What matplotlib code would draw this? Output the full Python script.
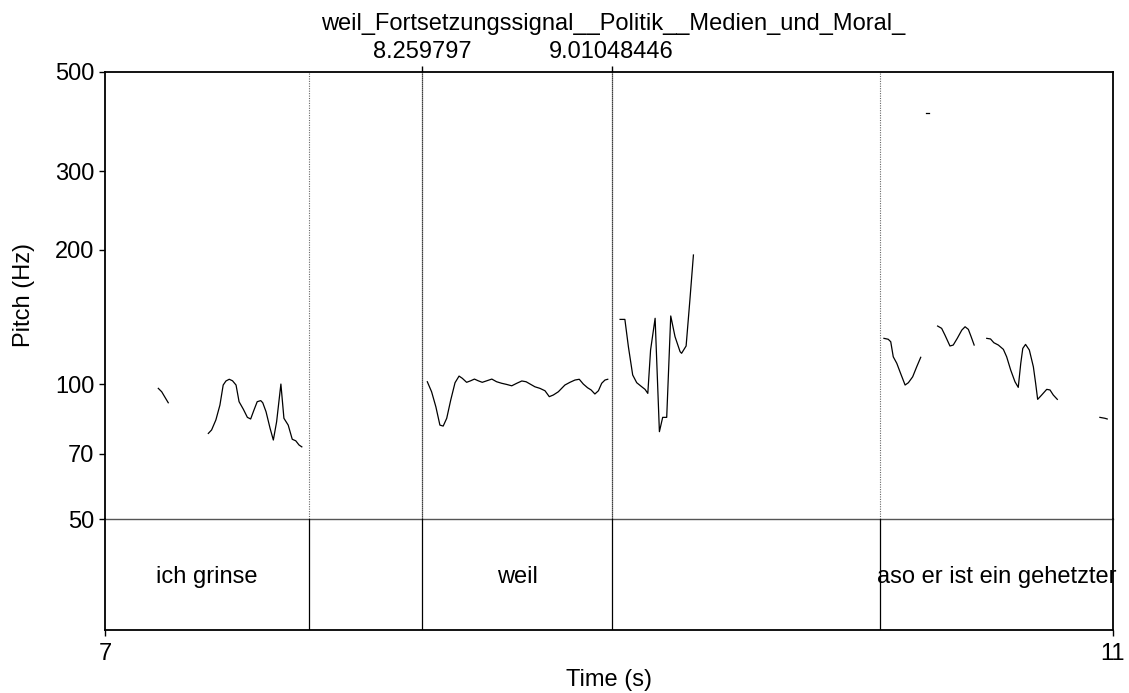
import matplotlib
matplotlib.use("Agg")
import matplotlib.pyplot as plt
import matplotlib.transforms as mtransforms
from matplotlib.ticker import FixedLocator, NullLocator

plt.rcParams['font.family'] = ['Liberation Sans', 'DejaVu Sans']

# ---------------- data ----------------
titre = "weil_Fortsetzungssignal__Politik__Medien_und_Moral_"
bornes = [7.81, 8.259797, 9.01048446, 10.075]          # limites des intervalles
bornes_marquees = [8.259797, 9.01048446]
labels_bornes = ["8.259797", "9.01048446"]
mots = ["ich grinse", "", "weil", "", "aso er ist ein gehetzter"]
debuts_mots = [7.0, 7.81, 8.259797, 9.01048446, 10.075, 11.0]

# courbes de F0 (s, Hz), un segment par liste
t1 = [7.2115, 7.225, 7.238, 7.251]
f1 = [98.0, 96.3, 93.6, 91.0]

t2 = [7.410, 7.423, 7.440, 7.456, 7.469, 7.480, 7.493, 7.506, 7.520, 7.532,
      7.549, 7.565, 7.578, 7.591, 7.604, 7.618, 7.626, 7.639, 7.655, 7.668,
      7.681, 7.698, 7.710, 7.727, 7.743, 7.757, 7.770, 7.781]
f2 = [77.7, 79.1, 83.3, 89.9, 99.7, 101.8, 102.7, 101.9, 99.7, 91.5,
      88.0, 84.4, 83.7, 87.6, 91.5, 92.0, 91.0, 86.9, 79.8, 75.1,
      82.5, 100.2, 84.0, 81.1, 75.4, 74.8, 73.2, 72.5]

t3 = [8.279, 8.296, 8.313, 8.329, 8.342, 8.356, 8.372, 8.389, 8.405, 8.418,
      8.435, 8.451, 8.466, 8.481, 8.497, 8.515, 8.535, 8.554, 8.574, 8.594,
      8.614, 8.634, 8.654, 8.671, 8.687, 8.706, 8.726, 8.746, 8.763, 8.779,
      8.799, 8.825, 8.845, 8.865, 8.882, 8.898, 8.915, 8.929, 8.944, 8.958,
      8.971, 8.984, 8.995]
f3 = [101.4, 96.3, 89.1, 81.1, 80.7, 84.0, 92.3, 100.9, 104.4, 103.2,
      101.1, 101.9, 102.8, 101.9, 101.1, 101.9, 102.8, 101.4, 100.6, 100.0,
      99.3, 100.6, 101.8, 101.4, 100.2, 98.8, 98.0, 96.8, 93.9, 94.7,
      96.3, 99.7, 101.1, 102.3, 102.7, 100.2, 98.3, 97.2, 95.2, 96.8,
      100.6, 102.3, 102.7]

t4 = [9.044, 9.063, 9.077, 9.094, 9.110, 9.130, 9.143, 9.154, 9.165, 9.183,
      9.200, 9.213, 9.229, 9.245, 9.262, 9.282, 9.288, 9.306, 9.321, 9.335]
f4 = [139.8, 139.8, 121.4, 105.0, 100.9, 98.8, 97.5, 95.5, 119.4, 140.6,
      78.4, 84.4, 84.4, 142.3, 127.9, 118.4, 117.4, 121.9, 154.5, 194.8]

t5 = [10.091, 10.108, 10.118, 10.128, 10.142, 10.157, 10.175, 10.188, 10.205, 10.221, 10.237]
f5 = [126.8, 126.2, 124.6, 115.3, 111.5, 105.9, 99.7, 100.9, 104.0, 109.5, 115.0]

t6 = [10.257, 10.271]
f6 = [405.0, 405.0]

t7 = [10.304, 10.320, 10.333, 10.353, 10.366, 10.382, 10.400, 10.413, 10.426, 10.437, 10.449]
f7 = [135.1, 133.5, 129.0, 121.9, 122.5, 126.8, 132.3, 134.6, 132.8, 127.9, 122.5]

t8 = [10.499, 10.514, 10.527, 10.545, 10.565, 10.578, 10.594, 10.611, 10.624, 10.634,
      10.642, 10.653, 10.668, 10.684, 10.693, 10.701, 10.717, 10.737, 10.750, 10.763, 10.779]
f8 = [126.8, 126.4, 124.0, 122.5, 119.8, 115.3, 107.7, 101.4, 98.5, 111.5,
      120.4, 122.9, 119.4, 109.5, 100.6, 92.6, 94.7, 97.5, 97.2, 94.7, 92.6]

t9 = [10.948, 10.968, 10.977]
f9 = [84.4, 84.0, 83.7]

segments = [(t1, f1), (t2, f2), (t3, f3), (t4, f4), (t5, f5),
            (t6, f6), (t7, f7), (t8, f8), (t9, f9)]

yticks = [50, 70, 100, 200, 300, 500]
xticks = [7, 11]

# ---------------- figure ----------------
W, H = 1129, 693
fig = plt.figure(figsize=(W / 100, H / 100), dpi=100)
gauche, droite = 105 / W, 1113 / W
haut, milieu, bas = 1 - 72 / H, 1 - 519 / H, 1 - 630 / H

ax = fig.add_axes([gauche, milieu, droite - gauche, haut - milieu])
tier = fig.add_axes([gauche, bas, droite - gauche, milieu - bas])
tier.patch.set_visible(False)

taille = 17

# partie pitch
ax.set_yscale('log')
ax.set_xlim(7, 11)
ax.set_ylim(50, 500)
for t, f in segments:
    ax.plot(t, f, color='black', lw=0.9)

for b in bornes:
    if b in bornes_marquees:
        ax.axvline(b, color='black', lw=0.9, ls=(0, (1, 0.6)))
    else:
        ax.axvline(b, color='#666666', lw=0.8, ls=(0, (1, 1.2)))

ax.yaxis.set_major_locator(FixedLocator(yticks))
ax.yaxis.set_minor_locator(NullLocator())
ax.set_yticklabels([str(v) for v in yticks])
ax.xaxis.set_ticks_position('top')
ax.set_xticks(bornes_marquees)
ax.set_xticklabels([])
ax.xaxis.set_minor_locator(NullLocator())
ax.tick_params(axis='x', direction='out', length=4, width=1)
ax.tick_params(axis='y', direction='out', length=4.5, width=1, pad=3, labelsize=taille)
for s in ax.spines.values():
    s.set_linewidth(1.3)
ax.spines['bottom'].set_linewidth(1.0)
ax.spines['bottom'].set_color('#555555')

trans = mtransforms.blended_transform_factory(ax.transData, fig.transFigure)
for b, lab in zip(bornes_marquees, labels_bornes):
    ax.text(b, 1 - 58 / H, lab, transform=trans, ha='center', va='baseline',
            fontsize=taille)
fig.text((gauche + droite) / 2 + 4 / W, 1 - 30 / H, titre, ha='center',
         va='baseline', fontsize=taille)
fig.text(24 / W, (haut + milieu) / 2, "Pitch (Hz)", rotation=90, ha='center',
         va='center', fontsize=taille)

# tier de mots
tier.set_xlim(7, 11)
tier.set_ylim(0, 1)
for b in bornes:
    tier.axvline(b, color='black', lw=0.9)
for i, m in enumerate(mots):
    if m:
        tier.text((debuts_mots[i] + debuts_mots[i + 1]) / 2, 0.5, m,
                  ha='center', va='center_baseline', fontsize=taille)
tier.set_yticks([])
tier.set_xticks(xticks)
tier.set_xticklabels([str(v) for v in xticks])
tier.tick_params(axis='x', direction='out', length=4, width=1, pad=5, labelsize=taille)
for s in tier.spines.values():
    s.set_linewidth(1.3)
tier.spines['top'].set_visible(False)
fig.text((gauche + droite) / 2, 1 - 680 / H, "Time (s)", ha='center',
         va='center', fontsize=taille)

fig.savefig("out.png", dpi=100)
